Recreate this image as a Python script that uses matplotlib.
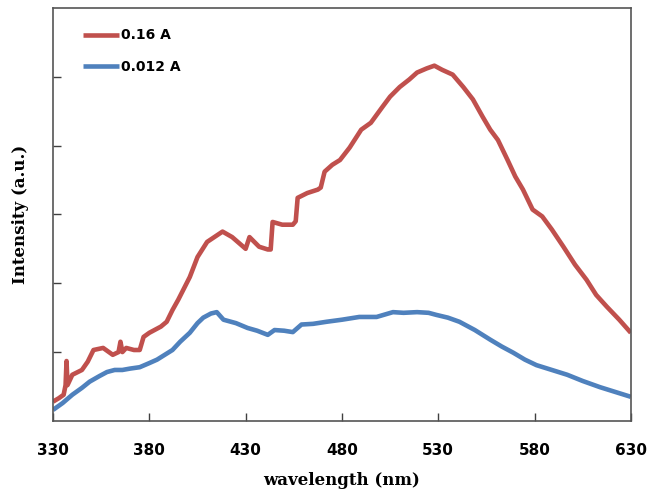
import matplotlib
matplotlib.use("Agg")
import matplotlib.pyplot as plt
import numpy as np

# values (arbitrary intensity units, y-tick spacing = 1)
wl_high = [330, 333, 335.5, 336.5, 337, 337.5, 340, 345, 348, 351, 356, 361, 364, 365, 366,
           368, 372, 375, 377, 380, 386, 389, 392, 395, 401, 405, 410, 418, 423, 430, 432,
           437, 441.5, 443, 444, 449, 454.5, 456, 457, 462, 467.5, 469, 471, 475, 479, 484,
           490, 495, 501, 505, 510, 515, 519, 524, 528, 532, 537.5, 543, 548, 553, 557, 561,
           566, 570, 574, 579, 584, 589, 595, 601, 607, 612, 617.5, 624, 630]
int_high = [0.28, 0.33, 0.38, 0.52, 0.87, 0.52, 0.67, 0.74, 0.86, 1.03, 1.06, 0.96, 1.00, 1.15, 1.00,
            1.06, 1.03, 1.03, 1.22, 1.28, 1.37, 1.44, 1.61, 1.76, 2.09, 2.38, 2.60, 2.75, 2.67, 2.50, 2.67,
            2.53, 2.49, 2.49, 2.89, 2.85, 2.85, 2.90, 3.24, 3.31, 3.36, 3.39, 3.62, 3.72, 3.79, 3.97,
            4.23, 4.33, 4.56, 4.71, 4.85, 4.96, 5.06, 5.12, 5.16, 5.10, 5.03, 4.85, 4.67, 4.42, 4.23, 4.08,
            3.79, 3.55, 3.36, 3.07, 2.97, 2.78, 2.53, 2.27, 2.05, 1.83, 1.66, 1.47, 1.28]

wl_low = [330, 335, 340, 345, 349, 354, 358, 362, 366, 370, 375, 380, 384, 388, 392, 396, 401,
          405, 408, 412, 415, 418.5, 425, 431, 436, 441.5, 445, 450, 454.5, 459, 465, 472, 480,
          489, 498, 506.5, 512, 519, 525, 529, 535, 541, 549, 557, 563, 569, 575, 581, 589, 597,
          605, 614, 622, 630]
int_low = [0.16, 0.26, 0.38, 0.48, 0.57, 0.65, 0.71, 0.74, 0.74, 0.76, 0.78, 0.84, 0.89, 0.96, 1.03, 1.15, 1.28,
           1.42, 1.50, 1.56, 1.58, 1.47, 1.42, 1.35, 1.31, 1.25, 1.32, 1.31, 1.29, 1.40, 1.41, 1.44, 1.47,
           1.51, 1.51, 1.58, 1.57, 1.58, 1.57, 1.54, 1.50, 1.44, 1.32, 1.18, 1.08, 0.99, 0.89, 0.81, 0.74, 0.67,
           0.58, 0.49, 0.42, 0.35]

x_ticks = [330, 380, 430, 480, 530, 580, 630]

fig = plt.figure(figsize=(6.47, 4.90), dpi=100)
ax = fig.add_axes([0.082, 0.141, 0.893, 0.843])

ax.plot(wl_high, int_high, color="#C0504D", linewidth=3.3, label="0.16 A", solid_capstyle="butt")
ax.plot(wl_low, int_low, color="#4F81BD", linewidth=3.3, label="0.012 A", solid_capstyle="butt")

ax.set_xlim(330, 630)
ax.set_ylim(0, 6)
ax.set_xticks(x_ticks)
ax.set_yticks(np.arange(1, 6))
ax.set_yticklabels([])
ax.tick_params(axis="x", direction="in", length=6, width=1, color="#404040", pad=16,
               labelsize=11)
ax.tick_params(axis="y", direction="in", length=6, width=1, color="#404040")
for label in ax.get_xticklabels():
    label.set_fontweight("bold")
for spine in ax.spines.values():
    spine.set_color("#555555")
    spine.set_linewidth(1.2)

ax.set_xlabel("wavelength (nm)", family="DejaVu Serif", fontweight="bold", fontsize=12, labelpad=10)
ax.set_ylabel("Intensity (a.u.)", family="DejaVu Serif", fontweight="bold", fontsize=12, labelpad=14)

ax.legend(loc="upper left", bbox_to_anchor=(0.052, 0.95), frameon=False, borderpad=0,
          borderaxespad=0, handlelength=2.6, handletextpad=0.15, labelspacing=1.25,
          prop={"weight": "bold", "size": 10})

fig.savefig("out.png", dpi=100, facecolor="white")
